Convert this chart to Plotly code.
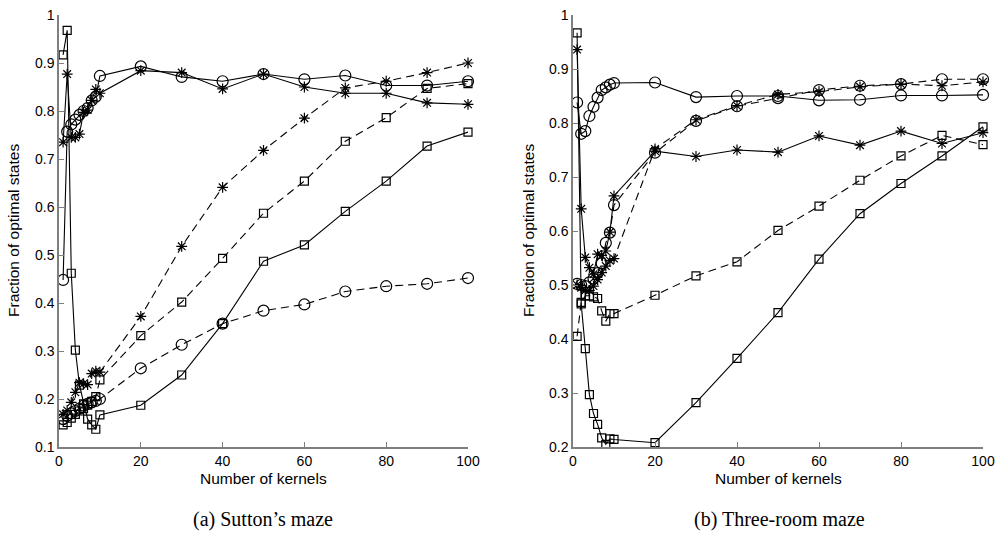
import plotly.graph_objects as go

kernels = [1, 2, 3, 4, 5, 6, 7, 8, 9, 10, 20, 30, 40, 50, 60, 70, 80, 90, 100]

# (a) Sutton's maze
a_circle_solid = [0.448, 0.757, 0.772, 0.782, 0.792, 0.800, 0.806, 0.822, 0.830, 0.873, 0.893, 0.871, 0.862, 0.877, 0.866, 0.874, 0.853, 0.853, 0.862]
a_star_solid = [0.735, 0.877, 0.745, 0.745, 0.752, 0.797, 0.802, 0.822, 0.845, 0.837, 0.884, 0.880, 0.846, 0.877, 0.850, 0.837, 0.837, 0.817, 0.814]
a_square_solid = [0.917, 0.968, 0.462, 0.302, 0.229, 0.190, 0.158, 0.146, 0.137, 0.167, 0.187, 0.250, 0.357, 0.487, 0.521, 0.591, 0.654, 0.727, 0.756]
a_circle_dashed = [0.158, 0.165, 0.170, 0.175, 0.180, 0.186, 0.190, 0.193, 0.196, 0.200, 0.264, 0.313, 0.357, 0.384, 0.397, 0.424, 0.435, 0.440, 0.452]
a_star_dashed = [0.168, 0.176, 0.193, 0.214, 0.234, 0.232, 0.230, 0.253, 0.258, 0.256, 0.372, 0.518, 0.641, 0.718, 0.785, 0.848, 0.862, 0.880, 0.900]
a_square_dashed = [0.146, 0.151, 0.160, 0.168, 0.175, 0.180, 0.187, 0.195, 0.205, 0.240, 0.332, 0.402, 0.493, 0.587, 0.654, 0.737, 0.786, 0.847, 0.857]

# (b) Three-room maze
b_circle_solid = [0.838, 0.780, 0.785, 0.813, 0.830, 0.847, 0.861, 0.866, 0.871, 0.874, 0.875, 0.848, 0.850, 0.850, 0.842, 0.843, 0.851, 0.851, 0.852]
b_star_solid = [0.936, 0.641, 0.551, 0.532, 0.520, 0.557, 0.555, 0.563, 0.598, 0.665, 0.748, 0.738, 0.750, 0.746, 0.776, 0.759, 0.785, 0.762, 0.782]
b_square_solid = [0.967, 0.465, 0.382, 0.297, 0.262, 0.242, 0.217, 0.205, 0.215, 0.214, 0.208, 0.282, 0.364, 0.449, 0.548, 0.632, 0.688, 0.739, 0.793]
b_circle_dashed = [0.502, 0.500, 0.498, 0.505, 0.512, 0.522, 0.540, 0.578, 0.597, 0.648, 0.745, 0.804, 0.831, 0.846, 0.861, 0.869, 0.872, 0.881, 0.881]
b_star_dashed = [0.500, 0.495, 0.490, 0.490, 0.498, 0.510, 0.523, 0.535, 0.545, 0.549, 0.752, 0.806, 0.832, 0.853, 0.858, 0.867, 0.872, 0.869, 0.876]
b_square_dashed = [0.405, 0.468, 0.480, 0.480, 0.478, 0.475, 0.452, 0.433, 0.447, 0.447, 0.481, 0.517, 0.543, 0.601, 0.646, 0.694, 0.739, 0.777, 0.760]

x_ticks = [0, 20, 40, 60, 80, 100]
a_y_ticks = [0.1, 0.2, 0.3, 0.4, 0.5, 0.6, 0.7, 0.8, 0.9, 1.0]
a_y_labels = ["0.1", "0.2", "0.3", "0.4", "0.5", "0.6", "0.7", "0.8", "0.9", "1"]
b_y_ticks = [0.2, 0.3, 0.4, 0.5, 0.6, 0.7, 0.8, 0.9, 1.0]
b_y_labels = ["0.2", "0.3", "0.4", "0.5", "0.6", "0.7", "0.8", "0.9", "1"]

x_title = "Number of kernels"
y_title = "Fraction of optimal states"
captions = ["(a) Sutton\u2019s maze", "(b) Three-room maze"]

MARK = {"circle": ("circle-open", 11), "star": ("asterisk-open", 9), "square": ("square-open", 8)}
DASH = {"solid": "solid", "dashed": "8px,5px"}

fig = go.Figure()


def add(y, marker, style, xa, ya):
    sym, size = MARK[marker]
    fig.add_trace(go.Scatter(
        x=kernels, y=y, mode="lines+markers", xaxis=xa, yaxis=ya,
        line=dict(color="black", width=1.1, dash=DASH[style]),
        marker=dict(symbol=sym, size=size, color="black", line=dict(color="black", width=1.2)),
        cliponaxis=False, showlegend=False, hoverinfo="x+y"))


for ser, mk, st in [(a_circle_dashed, "circle", "dashed"), (a_star_dashed, "star", "dashed"),
                    (a_square_dashed, "square", "dashed"), (a_circle_solid, "circle", "solid"),
                    (a_star_solid, "star", "solid"), (a_square_solid, "square", "solid")]:
    add(ser, mk, st, "x", "y")
for ser, mk, st in [(b_circle_dashed, "circle", "dashed"), (b_star_dashed, "star", "dashed"),
                    (b_square_dashed, "square", "dashed"), (b_circle_solid, "circle", "solid"),
                    (b_star_solid, "star", "solid"), (b_square_solid, "square", "solid")]:
    add(ser, mk, st, "x2", "y2")

axis_common = dict(showline=True, linecolor="#7f7f7f", linewidth=1.5, ticks="inside", ticklen=5,
                   tickcolor="#7f7f7f", tickwidth=1, showgrid=False, zeroline=False, automargin=False,
                   tickfont=dict(family="Liberation Sans, Arial", size=14, color="black"))

W, H = 998, 540
yd = [1 - 447 / H, 1 - 15 / H]
fig.update_layout(
    width=W, height=H, margin=dict(l=0, r=0, t=0, b=0, autoexpand=False),
    paper_bgcolor="white", plot_bgcolor="white",
    xaxis=dict(domain=[59 / W, 468 / W], range=[0, 100], tickvals=x_ticks, anchor="y", **axis_common),
    yaxis=dict(domain=yd, range=[0.1, 1.0], tickvals=a_y_ticks, ticktext=a_y_labels, anchor="x", **axis_common),
    xaxis2=dict(domain=[573 / W, 983 / W], range=[0, 100], tickvals=x_ticks, anchor="y2", **axis_common),
    yaxis2=dict(domain=yd, range=[0.2, 1.0], tickvals=b_y_ticks, ticktext=b_y_labels, anchor="x2", **axis_common),
)

ann_font = dict(family="Liberation Sans, Arial", size=15.5, color="black")
for cx, ytx in [((59 + 468) / 2, 13), ((573 + 983) / 2, 528)]:
    fig.add_annotation(x=cx / W, y=1 - 478 / H, xref="paper", yref="paper", text=x_title,
                       showarrow=False, font=ann_font, xanchor="center", yanchor="middle")
    fig.add_annotation(x=ytx / W, y=1 - 231 / H, xref="paper", yref="paper", text=y_title,
                       showarrow=False, font=ann_font, textangle=-90, xanchor="center", yanchor="middle")
for cx, cap in zip([263, 779], captions):
    fig.add_annotation(x=cx / W, y=1 - 519 / H, xref="paper", yref="paper", text=cap,
                       showarrow=False, font=dict(family="Liberation Serif, DejaVu Serif", size=20, color="black"),
                       xanchor="center", yanchor="middle")

fig.write_html("out.html", config={"displayModeBar": False},
               post_script="document.body.style.margin='0';document.body.style.overflow='hidden';")
